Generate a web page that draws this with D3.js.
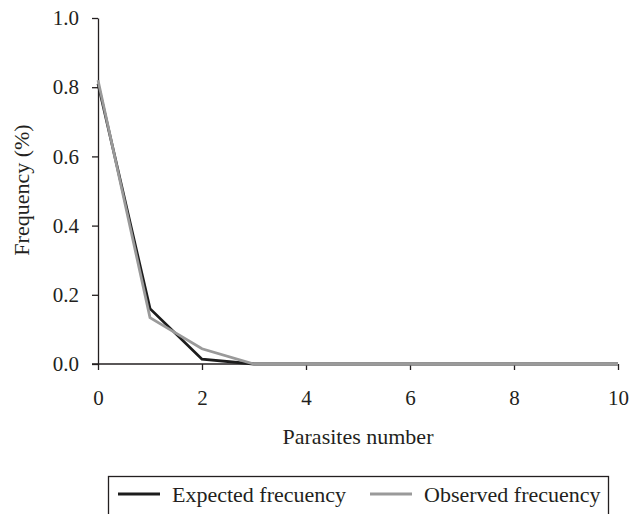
<!DOCTYPE html>
<html>
<head>
<meta charset="utf-8">
<title>Parasites frequency</title>
<style type="text/css">
body {margin: 0; background: #fff;}
svg text {font-family: "Liberation Serif", "DejaVu Serif", serif; fill: #231f20;}
.axis path, .axis line {stroke: #231f20; stroke-width: 1.3px;}
</style>
</head>
<body>
<svg width="629" height="514"></svg>
<script src="https://d3js.org/d3.v7.min.js"></script>
<script>
// values
var parasites = [0, 1, 2, 3, 4, 5, 6, 7, 8, 9, 10];
var expected = [0.81, 0.16, 0.014, 0, 0, 0, 0, 0, 0, 0, 0];
var observed = [0.82, 0.134, 0.044, 0, 0, 0, 0, 0, 0, 0, 0];
var xTicks = [0, 2, 4, 6, 8, 10];
var yTicks = [0, 0.2, 0.4, 0.6, 0.8, 1.0];
var seriesNames = ["Expected frecuency", "Observed frecuency"];
var seriesColors = ["#1c1c1c", "#9a9a9a"];

var svg = d3.select("svg"),
    margin = {top: 18, right: 11, bottom: 150, left: 98},
    width = +svg.attr("width") - margin.left - margin.right,
    height = +svg.attr("height") - margin.top - margin.bottom,
    g = svg.append("g").attr("transform", "translate(" + margin.left + "," + margin.top + ")");

var x = d3.scaleLinear().domain([0, 10]).range([0, width]);
var y = d3.scaleLinear().domain([0, 1]).range([height, 0]);

var xAxis = g.append("g")
    .attr("class", "axis")
    .attr("transform", "translate(0," + height + ")")
    .call(d3.axisBottom(x).tickValues(xTicks).tickFormat(d3.format("d")).tickSize(6).tickSizeOuter(0));
xAxis.selectAll("text").attr("font-size", 21).attr("y", 41).attr("dy", 0);
xAxis.select(".domain").attr("d", "M-6,0H" + width);

var yAxis = g.append("g")
    .attr("class", "axis")
    .call(d3.axisLeft(y).tickValues(yTicks).tickFormat(d3.format(".1f")).tickSize(6).tickSizeOuter(0));
yAxis.selectAll("text").attr("font-size", 21).attr("x", -19);

svg.append("text")
    .attr("x", margin.left + width / 2)
    .attr("y", 444)
    .attr("text-anchor", "middle")
    .attr("font-size", 22)
    .text("Parasites number");

svg.append("text")
    .attr("transform", "translate(29,190) rotate(-90)")
    .attr("text-anchor", "middle")
    .attr("font-size", 22)
    .text("Frequency (%)");

var line = d3.line()
    .x(function(d, i) { return x(parasites[i]); })
    .y(function(d) { return y(d); });

[expected, observed].forEach(function(s, k) {
    g.append("path")
        .datum(s)
        .attr("fill", "none")
        .attr("stroke", seriesColors[k])
        .attr("stroke-width", 2.8)
        .attr("stroke-linejoin", "miter")
        .attr("d", line);
});

// legend
var legend = svg.append("g");
legend.append("rect")
    .attr("x", 108.5)
    .attr("y", 476.5)
    .attr("width", 500)
    .attr("height", 50)
    .attr("fill", "none")
    .attr("stroke", "#231f20")
    .attr("stroke-width", 1.3);
var legX = [118, 370];
seriesNames.forEach(function(name, i) {
    legend.append("line")
        .attr("x1", legX[i])
        .attr("x2", legX[i] + 42)
        .attr("y1", 494)
        .attr("y2", 494)
        .attr("stroke", seriesColors[i])
        .attr("stroke-width", 2.8);
    legend.append("text")
        .attr("x", legX[i] + 54)
        .attr("y", 494)
        .attr("dy", "0.35em")
        .attr("font-size", 22)
        .text(name);
});
</script>
</body>
</html>
